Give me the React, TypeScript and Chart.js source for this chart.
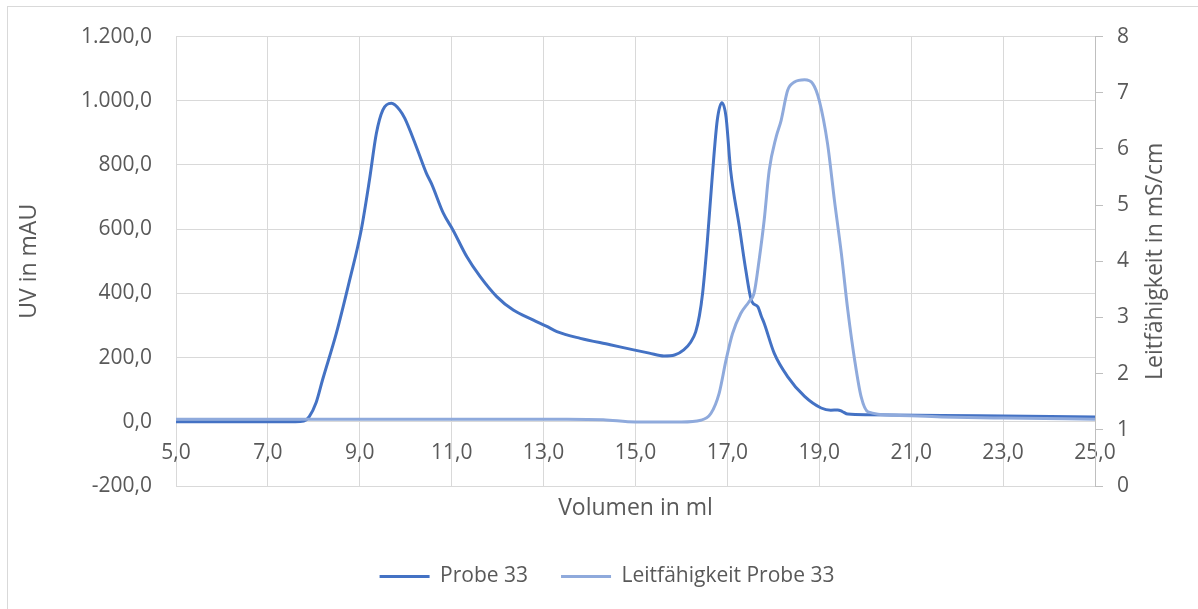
import React, { useEffect, useRef } from 'react';
import { Chart, registerables } from 'chart.js';

Chart.register(...registerables);

// Probe 33 (UV in mAU) over Volumen in ml
const uvVolumes = [5.0, 6.0, 7.0, 7.6, 7.78, 7.9, 8.05, 8.19, 8.49, 8.78, 9.03, 9.21, 9.36, 9.5, 9.69, 9.87, 9.98, 10.23, 10.45, 10.56, 10.82, 11.03, 11.33, 11.62, 11.98, 12.34, 12.78, 13.07, 13.29, 13.8, 14.45, 14.96, 15.3, 15.62, 15.85, 16.05, 16.2, 16.31, 16.39, 16.46, 16.56, 16.67, 16.78, 16.88, 16.97, 17.07, 17.26, 17.4, 17.53, 17.66, 17.74, 17.8, 18.02, 18.31, 18.68, 19.04, 19.25, 19.4, 19.5, 19.62, 20.06, 21.66, 23.0, 25.0];
const uvValues = [0, 0, 0, 0, 2, 16, 60, 131, 276, 442, 597, 753, 898, 971, 992, 971, 945, 857, 774, 742, 649, 597, 514, 452, 390, 348, 317, 297, 281, 260, 240, 224, 214, 205, 208, 224, 248, 280, 330, 400, 556, 763, 940, 994, 950, 784, 608, 473, 375, 359, 328, 307, 213, 141, 79, 43, 36, 37, 32, 24, 22, 20, 18, 15];

// Leitfähigkeit Probe 33 (mS/cm) over Volumen in ml
const condVolumes = [5.0, 8.0, 11.0, 13.5, 14.3, 15.0, 16.0, 16.42, 16.64, 16.82, 16.97, 17.11, 17.29, 17.47, 17.58, 17.69, 17.8, 17.91, 18.06, 18.17, 18.31, 18.46, 18.68, 18.86, 19.0, 19.18, 19.33, 19.48, 19.62, 19.77, 19.91, 20.06, 20.64, 21.66, 23.0, 25.0];
const condValues = [1.19, 1.19, 1.19, 1.19, 1.18, 1.14, 1.14, 1.17, 1.29, 1.65, 2.24, 2.71, 3.07, 3.28, 3.43, 4.02, 4.73, 5.62, 6.21, 6.51, 7.04, 7.19, 7.23, 7.16, 6.86, 6.09, 5.08, 4.14, 3.13, 2.24, 1.59, 1.32, 1.26, 1.23, 1.21, 1.19];

const seriesLabels = ['Probe 33', 'Leitfähigkeit Probe 33'];
const xTitle = 'Volumen in ml';
const yTitle = 'UV in mAU';
const y1Title = 'Leitfähigkeit in mS/cm';

const xMin = 5, xMax = 25, xStep = 2;
const yMin = -200, yMax = 1200, yStep = 200;
const y1Min = 0, y1Max = 8, y1Step = 1;

const FONT = "'Open Sans', 'Noto Sans', sans-serif";
const TEXT = '#595959';
const GRID = '#d9d9d9';
const TICK_SIZE = 21;
const TITLE_SIZE = 23;

const rightTitlePlugin = {
  id: 'rightTitle',
  afterDraw(chart: any) {
    const s = chart.scales.y1;
    const area = chart.chartArea;
    const ctx = chart.ctx;
    ctx.save();
    ctx.translate(s.right - 43, (area.top + area.bottom) / 2);
    ctx.rotate(-Math.PI / 2);
    ctx.font = `${TITLE_SIZE}px ${FONT}`;
    ctx.fillStyle = TEXT;
    ctx.textAlign = 'center';
    ctx.textBaseline = 'middle';
    ctx.fillText(y1Title, 0, 0);
    ctx.restore();
  },
};

export default function App() {
  const ref = useRef<HTMLCanvasElement>(null);

  useEffect(() => {
    if (!ref.current) return;
    const fmt1 = (v: any) =>
      Number(v).toLocaleString('de-DE', { minimumFractionDigits: 1, maximumFractionDigits: 1 });
    const defaultLabels = (Chart.defaults as any).plugins.legend.labels.generateLabels;
    const chart = new Chart(ref.current, {
      type: 'line',
      data: {
        datasets: [
          {
            label: seriesLabels[0],
            data: uvVolumes.map((x, i) => ({ x, y: uvValues[i] })),
            borderColor: '#4472C4',
            backgroundColor: '#4472C4',
            borderWidth: 3,
            pointRadius: 0,
            cubicInterpolationMode: 'monotone',
            xAxisID: 'x',
            yAxisID: 'y',
            order: 1,
          },
          {
            label: seriesLabels[1],
            data: condVolumes.map((x, i) => ({ x, y: condValues[i] })),
            borderColor: '#8FAADC',
            backgroundColor: '#8FAADC',
            borderWidth: 3,
            pointRadius: 0,
            cubicInterpolationMode: 'monotone',
            xAxisID: 'x',
            yAxisID: 'y1',
            order: 0,
          },
        ],
      },
      options: {
        animation: false,
        responsive: false,
        layout: { padding: { top: 35, left: 16, right: 0, bottom: 12 } },
        plugins: {
          legend: {
            position: 'bottom',
            labels: {
              boxWidth: 50,
              boxHeight: 3,
              padding: 33,
              color: TEXT,
              font: { family: FONT, size: 21 },
              sort: (a: any, b: any) => a.datasetIndex - b.datasetIndex,
              generateLabels: (c: any) =>
                defaultLabels(c).map((l: any) => ({ ...l, lineWidth: 0 })),
            },
          },
          tooltip: { enabled: false },
        },
        scales: {
          x: {
            type: 'linear',
            position: 'bottom',
            min: xMin,
            max: xMax,
            ticks: { display: false, stepSize: xStep },
            grid: { color: GRID, drawTicks: false },
            border: { display: false },
            title: {
              display: true,
              text: xTitle,
              color: TEXT,
              font: { family: FONT, size: TITLE_SIZE },
              padding: { top: 0, bottom: 11 },
            },
            afterFit: (s: any) => { s.height = 47; },
          },
          x2: {
            type: 'linear',
            position: { y: 0 },
            min: xMin,
            max: xMax,
            ticks: {
              stepSize: xStep,
              callback: fmt1,
              color: TEXT,
              font: { family: FONT, size: TICK_SIZE },
              padding: 19,
              maxRotation: 0,
              autoSkip: false,
            },
            grid: { display: false, drawTicks: false },
            border: { display: false },
          },
          y: {
            type: 'linear',
            position: 'left',
            min: yMin,
            max: yMax,
            ticks: {
              stepSize: yStep,
              callback: fmt1,
              color: TEXT,
              font: { family: FONT, size: TICK_SIZE },
              padding: 24,
            },
            grid: { color: GRID, drawTicks: false },
            border: { display: false },
            title: {
              display: true,
              text: yTitle,
              color: TEXT,
              font: { family: FONT, size: TITLE_SIZE },
              padding: { top: 0, bottom: 0 },
            },
            afterFit: (s: any) => { s.width = 160; },
          },
          y1: {
            type: 'linear',
            position: 'right',
            min: y1Min,
            max: y1Max,
            ticks: {
              stepSize: y1Step,
              color: TEXT,
              font: { family: FONT, size: TICK_SIZE },
              padding: 14,
            },
            grid: { drawOnChartArea: false, tickLength: 8, color: '#bfbfbf' },
            border: { display: true, color: '#bfbfbf' },
            title: { display: false },
            afterFit: (s: any) => { s.width = 103; },
          },
        },
      } as any,
      plugins: [rightTitlePlugin],
    });
    return () => chart.destroy();
  }, []);

  return (
    <div style={{ position: 'absolute', left: 0, top: 0, width: 1198, height: 609, overflow: 'hidden', background: '#fff' }}>
      <div style={{ position: 'absolute', left: 7, top: 6, width: 1200, height: 700, border: '1px solid #d9d9d9', boxSizing: 'border-box' }} />
      <canvas ref={ref} width={1198} height={609} style={{ position: 'absolute', left: 0, top: 0 }} />
    </div>
  );
}
